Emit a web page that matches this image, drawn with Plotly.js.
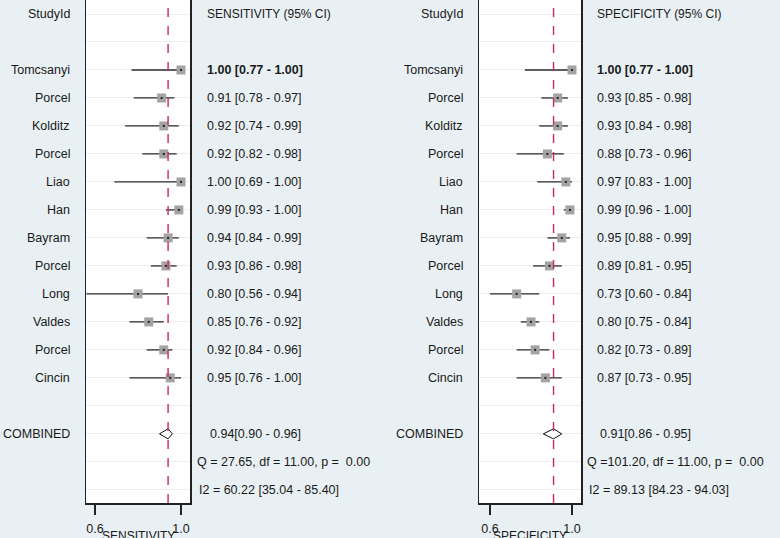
<!DOCTYPE html>
<html>
<head>
<meta charset="utf-8">
<script src="https://cdn.plot.ly/plotly-3.0.1.min.js"></script>
<style>html,body{margin:0;padding:0;background:#e9f0f3;}#chart{width:780px;height:538px;}</style>
</head>
<body>
<div id="chart"></div>
<script>
// ---- data ----
const studies = ["Tomcsanyi","Porcel","Kolditz","Porcel","Liao","Han","Bayram","Porcel","Long","Valdes","Porcel","Cincin"];
const sensEst = [1.00,0.91,0.92,0.92,1.00,0.99,0.94,0.93,0.80,0.85,0.92,0.95];
const sensLo  = [0.77,0.78,0.74,0.82,0.69,0.93,0.84,0.86,0.56,0.76,0.84,0.76];
const sensHi  = [1.00,0.97,0.99,0.98,1.00,1.00,0.99,0.98,0.94,0.92,0.96,1.00];
const specEst = [1.00,0.93,0.93,0.88,0.97,0.99,0.95,0.89,0.73,0.80,0.82,0.87];
const specLo  = [0.77,0.85,0.84,0.73,0.83,0.96,0.88,0.81,0.60,0.75,0.73,0.73];
const specHi  = [1.00,0.98,0.98,0.96,1.00,1.00,0.99,0.95,0.84,0.84,0.89,0.95];
const sensPooled = [0.94,0.90,0.96];   // est, lo, hi
const specPooled = [0.91,0.86,0.95];
const sensQ = [27.65, 11.00, 0.00];    // Q, df, p
const specQ = [101.20, 11.00, 0.00];
const sensI2 = [60.22, 35.04, 85.40];
const specI2 = [89.13, 84.23, 94.03];
const tickVals = [0.6, 1.0];
const tickText = ["0.6", "1.0"];

// ---- layout helpers ----
const W = 780, H = 538;
const px = v => v / W;
const rowsStart = 2, combinedRow = 15, qRow = 16, i2Row = 17;
const studyRows = studies.map((_, i) => rowsStart + i);
const f2 = v => v.toFixed(2);
const nb = s => s.replace(/ /g, "\u00a0");

const FONT = "Liberation Sans, Arial, sans-serif";
const txtColor = "#1a1a1a";
const FS = 12.5;

function panel(est, lo, hi, pooled, q, i2, xa, ya, cfg) {
  const traces = [];
  traces.push({
    type: "scatter", mode: "markers", xaxis: xa, yaxis: ya,
    x: est, y: studyRows,
    error_x: {type: "data", symmetric: false,
      array: est.map((e, i) => hi[i] - e),
      arrayminus: est.map((e, i) => e - lo[i]),
      thickness: 1.3, width: 0, color: "#2a2a2a"},
    marker: {symbol: "square", size: 9, color: "#a3a3a3"},
    hoverinfo: "skip", showlegend: false
  });
  traces.push({
    type: "scatter", mode: "markers", xaxis: xa, yaxis: ya,
    x: est, y: studyRows,
    marker: {symbol: "square", size: 2, color: "#222"},
    hoverinfo: "skip", showlegend: false
  });
  const r = combinedRow, h = 0.18;
  traces.push({
    type: "scatter", mode: "lines", xaxis: xa, yaxis: ya,
    x: [pooled[1], pooled[0], pooled[2], pooled[0], pooled[1]],
    y: [r, r - h, r, r + h, r],
    fill: "toself", fillcolor: "#ffffff",
    line: {color: "#111", width: 1},
    hoverinfo: "skip", showlegend: false
  });

  const ann = [];
  const yr = ya;
  const lx = px(cfg.labelX + 2), tx = px(cfg.textX - 2);
  ann.push({text: "StudyId", xref: "paper", x: lx, xanchor: "right", yref: yr, y: 0});
  ann.push({text: cfg.header, xref: "paper", x: tx, xanchor: "left", yref: yr, y: 0, fs: 12});
  studies.forEach((s, i) => {
    ann.push({text: s, xref: "paper", x: lx, xanchor: "right", yref: yr, y: studyRows[i]});
    let t = `${f2(est[i])} [${f2(lo[i])} - ${f2(hi[i])}]`;
    if (i === 0) t = "<b>" + t + "</b>";
    ann.push({text: t, xref: "paper", x: tx, xanchor: "left", yref: yr, y: studyRows[i]});
  });
  ann.push({text: "COMBINED", xref: "paper", x: lx, xanchor: "right", yref: yr, y: combinedRow});
  ann.push({text: `${f2(pooled[0])}[${f2(pooled[1])} - ${f2(pooled[2])}]`, xref: "paper", x: px(cfg.textX + 1), xanchor: "left", yref: yr, y: combinedRow});
  ann.push({text: nb(`Q =${f2(q[0]).padStart(6, " ")}, df = ${f2(q[1])}, p =  ${f2(q[2])}`), xref: "paper", x: px(cfg.textX - 12), xanchor: "left", yref: yr, y: qRow});
  ann.push({text: nb(`I2 = ${f2(i2[0])} [${f2(i2[1])} - ${f2(i2[2])}]`), xref: "paper", x: px(cfg.textX - 10), xanchor: "left", yref: yr, y: i2Row});
  ann.push({text: cfg.axisTitle, xref: "paper", x: px(cfg.titleX), xanchor: "center", yref: "paper", y: (H - 536) / H, yanchor: "middle", fs: 12});
  ann.forEach(a => { a.showarrow = false; if (!a.yanchor) a.yanchor = "middle"; a.font = {family: FONT, size: a.fs || FS, color: txtColor}; delete a.fs; });

  const shape = {type: "line", xref: xa, yref: (ya === "y" ? "y domain" : "y2 domain"),
    x0: pooled[0], x1: pooled[0], y0: 0, y1: 1,
    line: {color: "#cc2a5a", width: 1.4, dash: "dash"}, layer: "above"};
  return {traces, ann, shape};
}

const L = panel(sensEst, sensLo, sensHi, sensPooled, sensQ, sensI2, "x", "y",
  {labelX: 70, textX: 207, header: "SENSITIVITY (95% CI)", axisTitle: "SENSITIVITY", titleX: 138});
const R = panel(specEst, specLo, specHi, specPooled, specQ, specI2, "x2", "y2",
  {labelX: 463, textX: 597, header: "SPECIFICITY (95% CI)", axisTitle: "SPECIFICITY", titleX: 530});

const yDom = [(H - 503) / H, 1];
const yAxis = {
  domain: yDom, range: [17.47, -0.5], showticklabels: false, ticks: "",
  showgrid: true, gridcolor: "#eeeeee", gridwidth: 1, tick0: 0, dtick: 1,
  zeroline: false, showline: true, mirror: true, linecolor: "#222", linewidth: 1.5
};
const xAxisBase = {
  tickvals: tickVals, ticktext: tickText, ticks: "outside", ticklen: 10, tickwidth: 1.5,
  tickcolor: "#222", showgrid: false, zeroline: false, showline: true, mirror: false,
  linecolor: "#222", linewidth: 1.5, ticklabelstandoff: 3,
  tickfont: {family: FONT, size: FS, color: txtColor}
};

const layout = {
  width: W, height: H,
  margin: {l: 0, r: 0, t: 0, b: 0},
  paper_bgcolor: "#e9f0f3", plot_bgcolor: "#ffffff",
  showlegend: false,
  font: {family: FONT, size: 12, color: txtColor},
  xaxis: Object.assign({}, xAxisBase, {domain: [px(86), px(190)], range: [0.558, 1.042], anchor: "y"}),
  xaxis2: Object.assign({}, xAxisBase, {domain: [px(479), px(581)], range: [0.546, 1.044], anchor: "y2"}),
  yaxis: Object.assign({}, yAxis, {anchor: "x"}),
  yaxis2: Object.assign({}, yAxis, {anchor: "x2"}),
  annotations: L.ann.concat(R.ann),
  shapes: [L.shape, R.shape]
};

Plotly.newPlot("chart", L.traces.concat(R.traces), layout, {staticPlot: true, displayModeBar: false});
</script>
</body>
</html>
